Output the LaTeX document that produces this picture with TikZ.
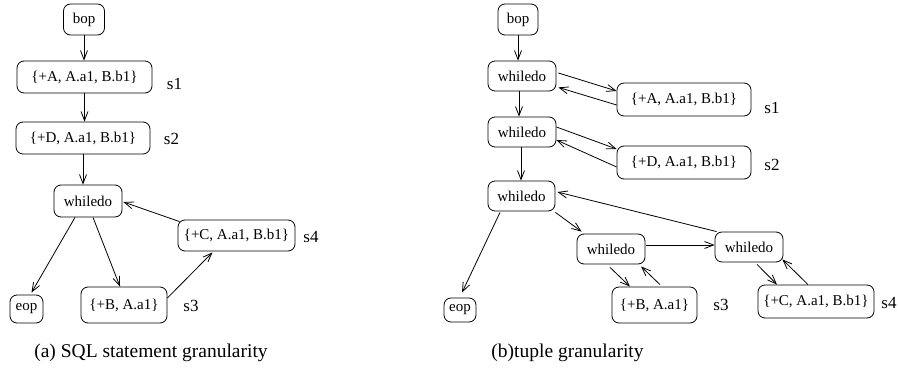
\documentclass[tikz,border=0pt]{standalone}
\usepackage{fontspec}
\setmainfont{Liberation Serif}
\usetikzlibrary{arrows.meta,calc}

\tikzset{
  box/.style={draw, rounded corners=7pt, line width=0.8pt, inner sep=0pt,
              font=\fontsize{15}{18}\selectfont},
  slabel/.style={font=\fontsize{17}{20}\selectfont, inner sep=0pt},
  caption/.style={font=\fontsize{19.5}{23}\selectfont, inner sep=0pt},
  flow/.style={line width=0.8pt, -{Straight Barb[length=9pt,width=7pt]}}
}

\begin{document}
\begin{tikzpicture}[x=1pt, y=-1pt]
\useasboundingbox (0,0) rectangle (899,369);

% ---------- (a) statement granularity ----------
\node[box, minimum width=41pt, minimum height=31pt] (lbop) at (84,19.5) {bop};
\node[box, minimum width=135pt, minimum height=32pt] (ls1) at (84.5,77) {\{+A, A.a1, B.b1\}};
\node[box, minimum width=134pt, minimum height=32pt] (ls2) at (83,138) {\{+D, A.a1, B.b1\}};
\node[box, minimum width=68pt, minimum height=32pt] (lw) at (88,201) {whiledo};
\node[box, minimum width=117pt, minimum height=31pt] (ls4) at (236.5,235.5) {\{+C, A.a1, B.b1\}};
\node[box, minimum width=33pt, minimum height=28pt] (leop) at (26.5,309) {eop};
\node[box, minimum width=86pt, minimum height=36pt] (ls3) at (124,305) {\{+B, A.a1\}};

\node[slabel] (lls1) at (174.5,84) {s1};
\node[slabel] (lls2) at (171.5,139) {s2};
\node[slabel] (lls4) at (311,237) {s4};
\node[slabel] (lls3) at (191,306) {s3};
\node[caption] (capa) at (151,353) {(a) SQL statement granularity};

\draw[flow] (lbop.south) -- (lbop.south |- ls1.north);
\draw[flow] (ls1.south) -- (ls1.south |- ls2.north);
\draw[flow] (ls2.south) -- (ls2.south |- lw.north);
\draw[flow] ($(lw.south)+(-13,0)$) -- ($(leop.north)+(5,-2)$);
\draw[flow] ($(lw.south)+(5,0)$) -- ($(ls3.north)+(-4,0)$);
\draw[flow] ($(ls3.east)+(0,-7)$) -- ($(ls4.south)+(-24,1)$);
\draw[flow] ($(ls4.north west)+(2,2)$) -- ($(lw.east)+(1,1)$);

% ---------- (b) tuple granularity ----------
\node[box, minimum width=40pt, minimum height=31pt] (rbop) at (518,19.5) {bop};
\node[box, minimum width=68pt, minimum height=30pt] (rw1) at (522,76) {whiledo};
\node[box, minimum width=134pt, minimum height=33pt] (rs1) at (684,99.5) {\{+A, A.a1, B.b1\}};
\node[box, minimum width=68pt, minimum height=30pt] (rw2) at (522,132) {whiledo};
\node[box, minimum width=134pt, minimum height=33pt] (rs2) at (684,162.5) {\{+D, A.a1, B.b1\}};
\node[box, minimum width=67pt, minimum height=30pt] (rw3) at (521.5,196) {whiledo};
\node[box, minimum width=32pt, minimum height=24pt] (reop) at (460,310) {eop};
\node[box, minimum width=68pt, minimum height=30pt] (rw4) at (611,249) {whiledo};
\node[box, minimum width=68pt, minimum height=30pt] (rw5) at (749,247) {whiledo};
\node[box, minimum width=85pt, minimum height=36pt] (rs3) at (654.5,305) {\{+B, A.a1\}};
\node[box, minimum width=116pt, minimum height=33pt] (rs4) at (816,301.5) {\{+C, A.a1, B.b1\}};

\node[slabel] (rls1) at (772,108) {s1};
\node[slabel] (rls2) at (772,165) {s2};
\node[slabel] (rls3) at (721,305) {s3};
\node[slabel] (rls4) at (889,303) {s4};
\node[caption] (capb) at (567.5,353) {(b)tuple granularity};

\draw[flow] (rbop.south) -- (rbop.south |- rw1.north);
\draw[flow] ($(rw1.east)+(2,-3)$) -- ($(rs1.west)+(0,-8.5)$);
\draw[flow] ($(rs1.west)+(0,5.5)$) -- ($(rw1.south east)+(2,-4)$);
\draw[flow] ($(rw1.south)+(-3,0)$) -- ($(rw2.north)+(-3,0)$);
\draw[flow] ($(rw2.east)+(0,-5)$) -- ($(rs2.west)+(0,-13.5)$);
\draw[flow] ($(rs2.west)+(0,4.5)$) -- ($(rw2.east)+(0,8)$);
\draw[flow] ($(rw2.south)+(-1,0)$) -- ($(rw3.north)+(-0.5,0)$);
\draw[flow] ($(rw3.south)+(-21.5,1)$) -- ($(reop.north)+(2,-5)$);
\draw[flow] ($(rw3.south east)+(0,1)$) -- ($(rw4.north west)+(5,-2)$);
\draw[flow] ($(rw4.east)+(1,-4)$) -- ($(rw5.west)+(0,-2)$);
\draw[flow] ($(rw5.north west)+(2,0)$) -- ($(rw3.east)+(2,-4)$);
\draw[flow] ($(rw4.south)+(-1,3)$) -- ($(rs3.north)+(-24.5,0)$);
\draw[flow] ($(rs3.north)+(5.5,-2)$) -- ($(rw4.south)+(30,2)$);
\draw[flow] ($(rw5.south)+(8,2)$) -- ($(rs4.north)+(-39,0)$);
\draw[flow] ($(rs4.north)+(-8,0)$) -- ($(rw5.south east)+(-1,-3)$);
\end{tikzpicture}
\end{document}
